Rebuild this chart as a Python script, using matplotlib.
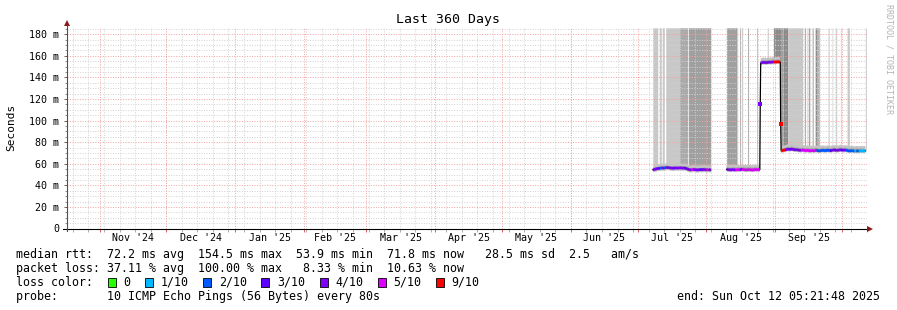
#!/usr/bin/env python3
"""SmokePing style latency graph for the last 360 days."""

from datetime import datetime, timedelta

import matplotlib
matplotlib.use("Agg")
import matplotlib.pyplot as plt
import matplotlib.dates as mdates
import matplotlib.patches as mpatches
from matplotlib.collections import LineCollection
from matplotlib.lines import Line2D
import numpy as np
import pandas as pd

END = datetime(2025, 10, 12, 5, 21, 48)
START = END - timedelta(days=360)
BASE = datetime(2025, 7, 1)  # all day offsets below count from here

MONTH_LABELS = ["Nov '24", "Dec '24", "Jan '25", "Feb '25", "Mar '25", "Apr '25",
                "May '25", "Jun '25", "Jul '25", "Aug '25", "Sep '25"]

LOSS_TENTHS = [0, 1, 2, 3, 4, 5, 9]
LOSS_LABELS = ["0", "1/10", "2/10", "3/10", "4/10", "5/10", "9/10"]
LOSS_COLORS = ["#26ff00", "#00b8ff", "#0059ff", "#5e00ff", "#7e00ff", "#dd00ff", "#ff0000"]

# median rtt (ms) and loss (tenths), first block of data
RUN_A_DAYS = [6.9, 8, 9, 10, 11, 12, 13, 14, 15, 16, 17, 18, 19, 20, 21, 22, 23,
              24, 25, 26, 27, 28, 29, 30, 31, 32, 32.9]
RUN_A_MS = [54.4, 55.0, 55.6, 55.8, 56.2, 55.9, 56.6, 56.3, 56.0, 55.8, 56.2, 55.9,
            56.3, 55.9, 56.1, 55.6, 54.6, 54.3, 54.8, 54.5, 54.2, 54.7, 54.4, 54.8,
            54.3, 54.6, 54.2]
RUN_A_LOSS = [4, 4, 4, 3, 2, 4, 2, 4, 4, 4, 3, 4, 4, 4, 4, 3, 4, 4, 5, 4, 4, 4, 3,
              4, 4, 5, 4]

# second block: low level, jump up, high level, drop, low level
RUN_B_DAYS = [40.1, 41, 42, 43, 44, 45, 46, 47, 48, 49, 50, 51, 52, 53, 54, 55,
              55.2,
              55.4, 56, 57, 58, 59, 60, 61, 62, 63, 64, 64.2,
              64.4,
              64.6, 65.5, 66.5, 67.5, 68.5, 69.5, 70.5, 71.5, 72.5, 73.5, 74.5,
              75.5, 76.5, 77.5, 78.5, 79.5, 80.5, 81.5, 82.5, 83.5, 84.5, 85.5,
              86.5, 87.5, 88.5, 89.5, 90.5, 91.5, 92.5, 93.5, 94.5, 95.5, 96.5,
              97.5, 98.5, 99.5, 100.5, 101.5, 102.5]
RUN_B_MS = [54.8, 54.5, 54.3, 54.7, 54.2, 54.6, 54.4, 54.9, 54.5, 54.3, 54.6, 54.4,
            54.2, 54.7, 54.5, 54.6,
            115.6,
            153.2, 153.8, 154.0, 153.6, 154.2, 153.9, 154.5, 154.1, 154.6, 154.3, 154.4,
            96.5,
            72.0, 72.4, 72.8, 73.6, 73.2, 73.8, 72.9, 73.1, 72.6, 72.4, 72.8, 72.1,
            72.5, 71.9, 72.3, 72.0, 72.6, 71.8, 72.2, 72.5, 72.0, 72.7, 72.1, 72.4,
            72.9, 72.3, 72.6, 73.0, 72.4, 72.8, 72.2, 71.8, 72.3, 71.6, 72.0, 71.7,
            72.1, 71.8, 72.0]
RUN_B_LOSS = [9, 4, 4, 4, 4, 5, 5, 4, 5, 5, 5, 5, 5, 5, 5, 5,
              4,
              4, 4, 4, 4, 4, 4, 4, 9, 9, 9, 9,
              9,
              9, 9, 9, 4, 4, 3, 4, 4, 4, 4, 5, 5, 5, 5, 5, 5, 5, 2, 2, 2, 2, 2, 2,
              3, 4, 3, 4, 4, 3, 4, 2, 2, 2, 2, 1, 2, 1, 1, 1]

# smoke reaching the top of the graph (day ranges, shade)
SMOKE_FROM = [6.87, 9.78, 11.13, 12.70, 18.67, 22.89, 40.08, 44.57, 45.92, 46.95,
              49.50, 53.55, 58.35, 61.18, 64.32, 65.53, 67.60, 75.09, 76.30, 77.02,
              78.55, 79.90, 81.06, 85.73, 87.52, 89.14, 91.25, 94.26, 102.47]
SMOKE_TO = [9.11, 10.68, 12.03, 18.67, 22.58, 32.90, 44.57, 45.02, 46.37, 47.26,
            49.95, 53.86, 58.80, 64.32, 65.53, 67.60, 74.33, 75.54, 76.57, 77.47,
            79.00, 80.80, 81.69, 86.18, 87.79, 89.59, 91.56, 95.29, 102.92]
SMOKE_SHADE = ["l", "l", "l", "l", "m", "d", "d", "l", "m", "m", "m", "m", "l", "x",
               "d", "x", "l", "m", "m", "x", "d", "x", "d", "l", "l", "l", "l", "l", "l"]
SHADES = {"l": "#c8c8c8", "m": "#ababab", "d": "#a0a0a0", "x": "#8c8c8c"}

SMOKE_BELOW, SMOKE_ABOVE = 2.0, 4.5  # ms of smoke hugging the median

LINE1 = "median rtt:  72.2 ms avg  154.5 ms max  53.9 ms min  71.8 ms now   28.5 ms sd  2.5   am/s"
LINE2 = "packet loss: 37.11 % avg  100.00 % max   8.33 % min  10.63 % now"
LINE4_LEFT = "probe:       10 ICMP Echo Pings (56 Bytes) every 80s"
LINE4_RIGHT = "end: Sun Oct 12 05:21:48 2025"

W, H = 897, 310
MONO = "DejaVu Sans Mono"
YTOP = 186


def fx(x):
    return x / W


def fy(y):
    return 1 - y / H


def loss_color(t):
    return LOSS_COLORS[LOSS_TENTHS.index(t)]


def main():
    fig = plt.figure(figsize=(W / 100, H / 100), dpi=100)
    fig.patch.set_facecolor("white")
    ax = fig.add_axes([fx(66.7), fy(228.5), (867 - 66.7) / W, (228.5 - 27.8) / H])
    ax.set_xlim(mdates.date2num(START), mdates.date2num(END))
    ax.set_ylim(0, YTOP)
    for s in ax.spines.values():
        s.set_visible(False)

    base = mdates.date2num(BASE)

    # grid, dotted
    months = pd.date_range("2024-11-01", END, freq="MS")
    weeks = pd.date_range(START.date(), END, freq="W-SUN")
    month_num = [mdates.date2num(m.to_pydatetime()) for m in months]
    week_num = [mdates.date2num(w.to_pydatetime()) for w in weeks]
    dot = (0, (1, 1.6))
    minor_kw = dict(color="#d2d2d2", lw=0.7, ls=dot, zorder=2)
    major_kw = dict(color="#f2a0a0", lw=0.7, ls=dot, zorder=2)
    for w in week_num:
        ax.axvline(w, **minor_kw)
    for v in range(5, YTOP, 5):
        if v % 20:
            ax.axhline(v, **minor_kw)
    for m in month_num:
        ax.axvline(m, **major_kw)
    for v in range(20, YTOP, 20):
        ax.axhline(v, **major_kw)

    all_days = np.array(RUN_A_DAYS + RUN_B_DAYS)
    all_ms = np.array(RUN_A_MS + RUN_B_MS)

    # smoke to the top
    for a, b, shade in zip(SMOKE_FROM, SMOKE_TO, SMOKE_SHADE):
        xs = np.linspace(a, b, 12)
        lo = np.interp(xs, all_days, all_ms)
        ax.fill_between(base + xs, lo, YTOP, color=SHADES[shade], lw=0, zorder=1)

    for days, ms, loss in [(RUN_A_DAYS, RUN_A_MS, RUN_A_LOSS),
                           (RUN_B_DAYS, RUN_B_MS, RUN_B_LOSS)]:
        x = base + np.array(days)
        y = np.array(ms)
        step = np.abs(np.diff(y)) < 8
        level = np.zeros(len(y), bool)
        level[:-1] |= step
        level[1:] |= step

        # smoke hugging the median
        ax.fill_between(x, y - SMOKE_BELOW, y + SMOKE_ABOVE, where=level,
                        color="#c4c4c4", lw=0, zorder=2.5)
        ax.fill_between(x, y - 0.8, y + 2.2, where=level,
                        color="#a6a6a6", lw=0, zorder=2.6)

        ax.plot(x, y, color="black", lw=0.9, zorder=3)

        segs, cols = [], []
        for i in range(len(y) - 1):
            if step[i]:
                segs.append([(x[i], y[i]), (x[i + 1], y[i + 1])])
                cols.append(loss_color(loss[i + 1]))
        ax.add_collection(LineCollection(segs, colors=cols, linewidths=2.0,
                                         capstyle="butt", zorder=4))
        for i in np.where(~level)[0]:
            ax.plot(x[i], y[i], marker="s", ms=2.2, mew=0,
                    color=loss_color(loss[i]), zorder=4)

    # ticks
    ax.set_xticks(month_num)
    ax.set_xticks(week_num, minor=True)
    ax.set_xticklabels([])
    ax.tick_params(axis="x", which="major", length=2, width=0.7, color="#e06060")
    ax.tick_params(axis="x", which="minor", length=2, width=0.7, color="#b0b0b0")
    yt = list(range(0, 181, 20))
    ax.set_yticks(yt)
    ax.set_yticks([v for v in range(5, YTOP, 5) if v % 20], minor=True)
    ax.set_yticklabels(["0" if v == 0 else f"{v} m" for v in yt],
                       fontsize=7.2, family=MONO)
    ax.tick_params(axis="y", which="major", length=2, width=0.7, color="#606060", pad=3.5)
    ax.tick_params(axis="y", which="minor", length=1.5, width=0.7, color="#909090")

    # month labels centred in each month
    trans = ax.get_xaxis_transform()
    for lab, a, b in zip(MONTH_LABELS, month_num[:-1], month_num[1:]):
        ax.text((a + b) / 2, -0.046, lab, transform=trans, ha="center", va="center",
                fontsize=7.2, family=MONO)

    # axis lines with arrows
    fig.add_artist(Line2D([fx(63), fx(869)], [fy(228.5), fy(228.5)],
                          color="black", lw=0.8, transform=fig.transFigure))
    fig.add_artist(Line2D([fx(66.7), fx(66.7)], [fy(231), fy(24)],
                          color="#505050", lw=0.8, transform=fig.transFigure))
    fig.add_artist(Line2D([fx(870)], [fy(228.5)], marker=">", ms=4, mew=0,
                          color="#8b1a1a", transform=fig.transFigure))
    fig.add_artist(Line2D([fx(66.7)], [fy(22.5)], marker="^", ms=4, mew=0,
                          color="#8b1a1a", transform=fig.transFigure))

    # texts
    fig.text(fx(448), fy(19), "Last 360 Days", ha="center", va="center",
             fontsize=9.5, family=MONO)
    fig.text(fx(11), fy(127.5), "Seconds", rotation=90, ha="center", va="center",
             fontsize=8, family=MONO)
    fig.text(fx(889), fy(59), "RRDTOOL / TOBI OETIKER", rotation=270, ha="center",
             va="center", fontsize=6, family=MONO, color="#b4b4b4")

    fs = 8.4
    fig.text(fx(16), fy(254.3), LINE1, va="center", fontsize=fs, family=MONO)
    fig.text(fx(16), fy(268.3), LINE2, va="center", fontsize=fs, family=MONO)
    fig.text(fx(16), fy(282.3), "loss color:", va="center", fontsize=fs, family=MONO)
    fig.text(fx(16), fy(296.3), LINE4_LEFT, va="center", fontsize=fs, family=MONO)
    fig.text(fx(880), fy(296.3), LINE4_RIGHT, ha="right", va="center",
             fontsize=fs, family=MONO)

    char_w = 7.02
    sx = 108.0
    for lab, col in zip(LOSS_LABELS, LOSS_COLORS):
        fig.add_artist(mpatches.Rectangle((fx(sx), fy(287)), 8 / W, 9 / H,
                                          facecolor=col, edgecolor="black", lw=0.6,
                                          transform=fig.transFigure))
        lx = sx + 15.5
        fig.text(fx(lx), fy(282.3), lab, va="center", fontsize=fs, family=MONO)
        sx = lx + len(lab) * char_w + 14.6

    fig.savefig("out.png", dpi=100, facecolor="white")


if __name__ == "__main__":
    main()
